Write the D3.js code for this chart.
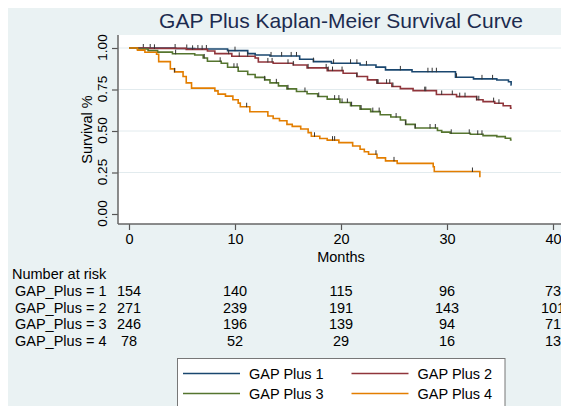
<!DOCTYPE html>
<html>
<head>
<meta charset="utf-8">
<script src="https://cdnjs.cloudflare.com/ajax/libs/d3/7.8.5/d3.min.js"></script>
<style>
  body { margin: 0; background: #fff; }
  text { font-family: "Liberation Sans", Arial, Helvetica, sans-serif; }
</style>
</head>
<body>
<script>

// step points [month, survival]
var gap1 = [[0,1],[4.4,0.997],[6.2,0.994],[9.3,0.984],[11.2,0.966],[11.9,0.958],[13.3,0.952],[16.1,0.932],[17.4,0.918],[19.1,0.908],[21.8,0.898],[23.3,0.885],[24.2,0.868],[26.7,0.857],[30.8,0.824],[32.5,0.814],[34.7,0.807],[35.8,0.797],[36.05,0.778]];
var gap2 = [[0,1],[1.8,0.998],[5.4,0.992],[7.4,0.982],[8.1,0.966],[9.7,0.95],[11.9,0.94],[12.2,0.916],[13.6,0.908],[15.5,0.898],[16.8,0.88],[18.7,0.864],[20.2,0.848],[21.5,0.828],[22.5,0.808],[23.4,0.788],[24.8,0.768],[25.6,0.755],[26.8,0.743],[29.0,0.72],[30.9,0.707],[32.8,0.688],[33.4,0.677],[34.5,0.667],[35.3,0.652],[36,0.638]];
var gap3 = [[0,1],[0.8,0.994],[1.8,0.984],[2.7,0.975],[4.1,0.965],[6.2,0.958],[7.0,0.94],[7.4,0.92],[8.7,0.908],[9.3,0.884],[10.3,0.86],[11.2,0.84],[11.9,0.823],[12.8,0.808],[13.3,0.79],[14.1,0.772],[14.9,0.754],[15.8,0.738],[16.8,0.724],[17.8,0.708],[18.7,0.692],[19.9,0.672],[20.9,0.652],[21.8,0.632],[22.8,0.617],[23.7,0.598],[24.7,0.584],[25.6,0.566],[26.1,0.54],[27,0.518],[29.1,0.503],[29.5,0.493],[30.3,0.486],[32.2,0.48],[33.4,0.472],[34.7,0.466],[35.5,0.456],[36,0.446]];
var gap4 = [[0,1],[0.8,0.987],[1.5,0.974],[2.6,0.962],[2.8,0.918],[3.9,0.874],[4.3,0.856],[5.1,0.828],[5.4,0.79],[5.9,0.758],[8.1,0.742],[8.4,0.722],[9.1,0.71],[9.8,0.688],[10.3,0.668],[10.5,0.646],[11.4,0.616],[13.1,0.59],[13.6,0.575],[14.2,0.562],[14.9,0.54],[15.4,0.528],[16.2,0.512],[16.9,0.49],[17.2,0.468],[18,0.455],[18.7,0.445],[19.8,0.43],[21.1,0.41],[21.8,0.39],[22.2,0.375],[22.6,0.36],[23.4,0.338],[24.2,0.32],[25.3,0.305],[28.7,0.285],[28.8,0.256],[33.1,0.222]];
var endMonths = [36.1, 36.1, 36.1, 33.1];

// censored observations (months)
var cens1 = [1.35,2.0,4.35,5.45,6.5,7.3,10.0,13.4,14.4,15.3,15.8,17.4,19.3,20.9,21.5,22.4,25.6,28.2,28.6,29.0,30.9,33.3,34.3];
var cens2 = [2.4,6.0,6.9,9.4,10.4,11.2,13.1,13.5,15.0,15.5,16.9,18.6,18.8,19.2,20.1,21.5,23.4,23.5,24.3,24.6,24.9,27.9,28.0,29.5,30.5,31.2,31.7,32.8,33.0,34.4,34.9];
var cens3 = [4.4,7.1,8.6,9.9,10.2,12.8,13.9,15.0,16.6,17.9,19.4,19.8,20.1,20.6,21.0,21.9,23.0,23.6,25.2,26.1,27.0,28.4,28.9,30.4,32.1,32.9,33.3];
var cens4 = [4.3,11.1,17.5,19.2,19.4,23.3,25.0,32.4];

var groups = ["GAP Plus 1", "GAP Plus 2", "GAP Plus 3", "GAP Plus 4"];
var riskLabels = ["GAP_Plus = 1", "GAP_Plus = 2", "GAP_Plus = 3", "GAP_Plus = 4"];
var riskMonths = [0, 10, 20, 30, 40];
var risk1 = [154, 140, 115, 96, 73];
var risk2 = [271, 239, 191, 143, 101];
var risk3 = [246, 196, 139, 94, 71];
var risk4 = [78, 52, 29, 16, 13];
var yTicks = [0, 0.25, 0.5, 0.75, 1];
var xTicks = [0, 10, 20, 30, 40];

var colors = ["#1a476f", "#90353b", "#55752f", "#e37e00"];
var steps = [gap1, gap2, gap3, gap4];
var cens = [cens1, cens2, cens3, cens4];
var risks = [risk1, risk2, risk3, risk4];

var W = 561, H = 406;
var plot = {left: 118, top: 35, bottom: 224};

var svg = d3.select("body").append("svg")
    .attr("width", W)
    .attr("height", H);

svg.append("rect").attr("width", W).attr("height", H).attr("fill", "#fff");
svg.append("rect").attr("x", 8).attr("y", 8).attr("width", W).attr("height", H).attr("fill", "#eaf2f3");

var x = d3.scaleLinear().domain([0, 40]).range([129, 553]);
var y = d3.scaleLinear().domain([0, 1]).range([214, 48]);

// plot region
svg.append("rect")
    .attr("x", plot.left).attr("y", plot.top)
    .attr("width", W - plot.left + 10).attr("height", plot.bottom - plot.top)
    .attr("fill", "#fff");

// grid
svg.append("g").selectAll("line")
    .data(yTicks.slice(1))
  .enter().append("line")
    .attr("x1", plot.left).attr("x2", W + 10)
    .attr("y1", function(d) { return y(d); })
    .attr("y2", function(d) { return y(d); })
    .attr("stroke", "#e2ebee")
    .attr("stroke-width", 1);

// title
svg.append("text")
    .attr("x", 341).attr("y", 28)
    .attr("text-anchor", "middle")
    .attr("font-size", 21)
    .attr("fill", "#1c2b4f")
    .text("GAP Plus Kaplan-Meier Survival Curve");

// y axis
var yAxis = svg.append("g")
    .attr("transform", "translate(" + plot.left + ",0)")
    .call(d3.axisLeft(y).tickValues(yTicks).tickFormat(d3.format(".2f")).tickSize(6));
yAxis.select(".domain").remove();
yAxis.selectAll("line").attr("stroke", "#555").attr("stroke-width", 1.2);
yAxis.selectAll("text")
    .attr("transform", "rotate(-90)")
    .attr("x", 1).attr("y", -11).attr("dy", 0)
    .attr("text-anchor", "middle")
    .attr("font-size", 13.5)
    .attr("fill", "#000");
svg.append("line")
    .attr("x1", plot.left).attr("x2", plot.left)
    .attr("y1", plot.top).attr("y2", plot.bottom)
    .attr("stroke", "#666").attr("stroke-width", 1.5);

svg.append("text")
    .attr("transform", "translate(92," + (plot.top + plot.bottom) / 2 + ") rotate(-90)")
    .attr("text-anchor", "middle")
    .attr("font-size", 14.5)
    .text("Survival %");

// x axis
var xAxis = svg.append("g")
    .attr("transform", "translate(0," + plot.bottom + ")")
    .call(d3.axisBottom(x).tickValues(xTicks).tickFormat(d3.format("d")).tickSize(6).tickPadding(4));
xAxis.select(".domain").remove();
xAxis.selectAll("line").attr("stroke", "#555").attr("stroke-width", 1.2);
xAxis.selectAll("text").attr("font-size", 14.5).attr("fill", "#000");
svg.append("line")
    .attr("x1", plot.left).attr("x2", W + 10)
    .attr("y1", plot.bottom).attr("y2", plot.bottom)
    .attr("stroke", "#666").attr("stroke-width", 1.5);

svg.append("text")
    .attr("x", 341).attr("y", 262)
    .attr("text-anchor", "middle")
    .attr("font-size", 14.5)
    .text("Months");

// survival curves
var line = d3.line()
    .x(function(d) { return x(d[0]); })
    .y(function(d) { return y(d[1]); })
    .curve(d3.curveStepAfter);

function survAt(s, t) {
  var i = d3.bisector(function(d) { return d[0]; }).right(s, t) - 1;
  return s[Math.max(i, 0)][1];
}

steps.forEach(function(s, i) {
  var pts = s.concat([[endMonths[i], s[s.length - 1][1]]]);
  svg.append("path")
      .datum(pts)
      .attr("fill", "none")
      .attr("stroke", colors[i])
      .attr("stroke-width", 1.6)
      .attr("d", line);

  svg.append("g").selectAll("line")
      .data(cens[i])
    .enter().append("line")
      .attr("x1", function(d) { return x(d); })
      .attr("x2", function(d) { return x(d); })
      .attr("y1", function(d) { return y(survAt(s, d)) + 0.5; })
      .attr("y2", function(d) { return y(survAt(s, d)) - 4; })
      .attr("stroke", "#333")
      .attr("stroke-width", 1);
});

// number at risk table
svg.append("text")
    .attr("x", 12).attr("y", 279)
    .attr("font-size", 14.5)
    .text("Number at risk");

var rowY = [296, 312.5, 329, 345.5];
risks.forEach(function(r, i) {
  svg.append("text")
      .attr("x", 15).attr("y", rowY[i])
      .attr("font-size", 14.5)
      .text(riskLabels[i]);
  svg.append("g").selectAll("text")
      .data(r)
    .enter().append("text")
      .attr("x", function(d, j) { return x(riskMonths[j]); })
      .attr("y", rowY[i])
      .attr("text-anchor", "middle")
      .attr("font-size", 14.5)
      .text(function(d) { return d; });
});

// legend
var legend = svg.append("g");
legend.append("rect")
    .attr("x", 177.5).attr("y", 358.5)
    .attr("width", 327.5).attr("height", 70)
    .attr("fill", "#fff")
    .attr("stroke", "#777")
    .attr("stroke-width", 1);

var legX = [183, 351.5], legY = [373.5, 393.5];
groups.forEach(function(g, i) {
  var cx = legX[i % 2], cy = legY[Math.floor(i / 2)];
  legend.append("line")
      .attr("x1", cx).attr("x2", cx + 57)
      .attr("y1", cy).attr("y2", cy)
      .attr("stroke", colors[i])
      .attr("stroke-width", 1.5);
  legend.append("text")
      .attr("x", cx + 66).attr("y", cy + 5)
      .attr("font-size", 14.5)
      .text(g);
});

</script>
</body>
</html>
